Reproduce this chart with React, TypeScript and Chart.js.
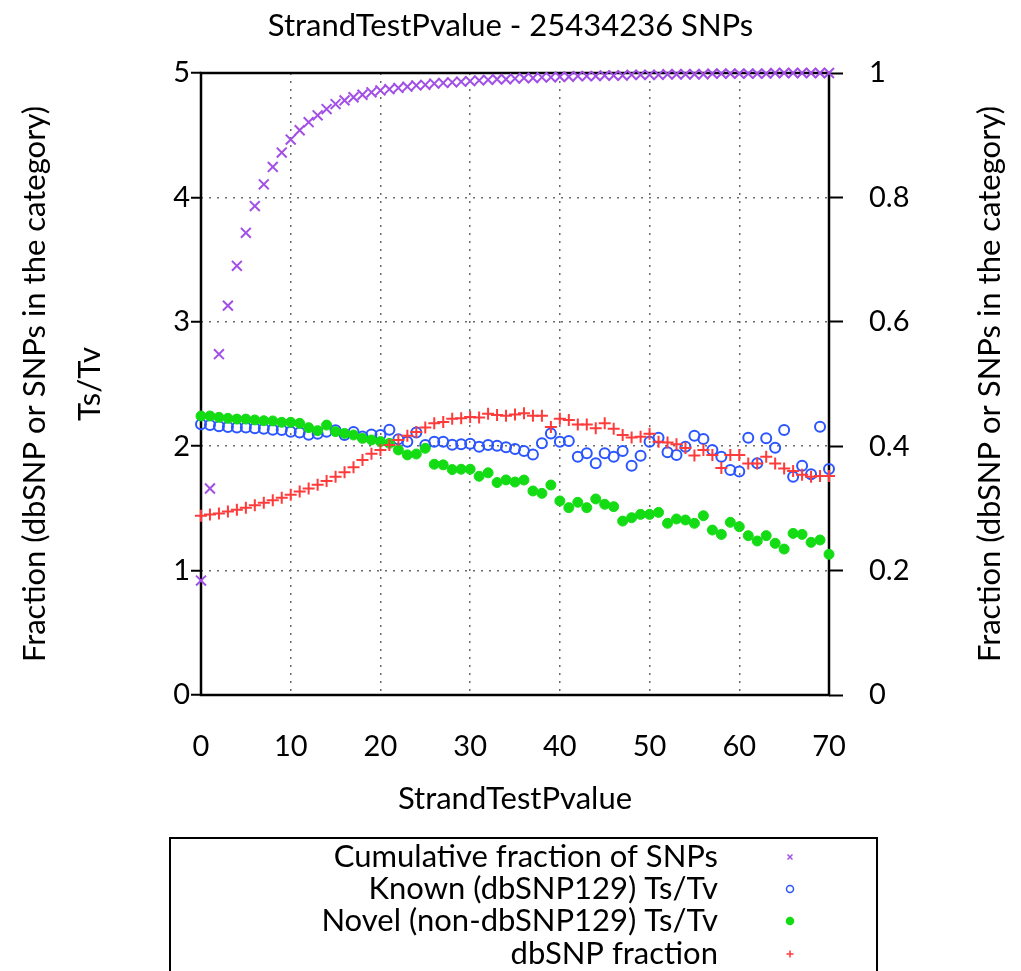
import React, { useEffect, useRef } from 'react';
import { Chart, registerables } from 'chart.js';
import { drawPoint } from 'chart.js/helpers';

Chart.register(...registerables);

const strandTestPvalue = [
  0, 1, 2, 3, 4, 5, 6, 7, 8, 9, 10, 11, 12, 13, 14, 15, 16, 17, 18, 19,
  20, 21, 22, 23, 24, 25, 26, 27, 28, 29, 30, 31, 32, 33, 34, 35, 36, 37, 38, 39,
  40, 41, 42, 43, 44, 45, 46, 47, 48, 49, 50, 51, 52, 53, 54, 55, 56, 57, 58, 59,
  60, 61, 62, 63, 64, 65, 66, 67, 68, 69, 70,
];

const cumulativeFraction = [
  0.184, 0.332, 0.548, 0.626, 0.69, 0.743, 0.786, 0.821, 0.849, 0.872,
  0.893, 0.908, 0.921, 0.932, 0.942, 0.95, 0.956, 0.961, 0.965, 0.969,
  0.972, 0.974, 0.976, 0.978, 0.98, 0.981, 0.983, 0.984, 0.985, 0.986,
  0.987, 0.988, 0.989, 0.99, 0.99, 0.991, 0.992, 0.992, 0.993, 0.993,
  0.994, 0.994, 0.995, 0.995, 0.995, 0.996, 0.996, 0.996, 0.997, 0.997,
  0.997, 0.997, 0.998, 0.998, 0.998, 0.998, 0.998, 0.999, 0.999, 0.999,
  0.999, 0.999, 0.999, 0.999, 1.0, 1.0, 1.0, 1.0, 1.0, 1.0, 1.0,
];

const knownTsTv = [
  2.176, 2.17, 2.16, 2.155, 2.15, 2.15, 2.145, 2.14, 2.132, 2.13,
  2.117, 2.111, 2.092, 2.1, 2.117, 2.128, 2.09, 2.115, 2.077, 2.095,
  2.09, 2.132, 2.055, 2.036, 2.111, 2.01, 2.036, 2.036, 2.012, 2.016,
  2.02, 1.995, 2.01, 2.004, 1.992, 1.978, 1.961, 1.934, 2.023, 2.103,
  2.036, 2.041, 1.916, 1.943, 1.862, 1.943, 1.916, 1.961, 1.843, 1.924,
  2.036, 2.068, 1.951, 1.929, 1.996, 2.084, 2.057, 1.969, 1.916, 1.809,
  1.796, 2.068, 1.862, 2.063, 1.988, 2.13, 1.755, 1.843, 1.774, 2.157,
  1.816,
];

const novelTsTv = [
  2.243, 2.243, 2.232, 2.224, 2.218, 2.218, 2.211, 2.205, 2.203, 2.192,
  2.192, 2.184, 2.149, 2.125, 2.17, 2.117, 2.103, 2.09, 2.063, 2.05,
  2.037, 2.023, 1.97, 1.93, 1.937, 1.983, 1.855, 1.85, 1.812, 1.815,
  1.815, 1.758, 1.786, 1.708, 1.729, 1.712, 1.728, 1.64, 1.621, 1.688,
  1.56, 1.506, 1.549, 1.506, 1.576, 1.533, 1.514, 1.398, 1.425, 1.452,
  1.452, 1.468, 1.38, 1.415, 1.407, 1.38, 1.441, 1.326, 1.291, 1.388,
  1.353, 1.281, 1.238, 1.281, 1.219, 1.173, 1.299, 1.291, 1.227, 1.246,
  1.131,
];

const dbsnpFraction = [
  0.288, 0.29, 0.292, 0.295, 0.298, 0.301, 0.305, 0.309, 0.313, 0.317,
  0.322, 0.327, 0.332, 0.338, 0.344, 0.351, 0.358, 0.366, 0.378, 0.388,
  0.394, 0.402, 0.41, 0.417, 0.423, 0.43, 0.437, 0.439, 0.444, 0.445,
  0.447, 0.446, 0.452, 0.45, 0.449, 0.451, 0.453, 0.449, 0.449, 0.431,
  0.444, 0.442, 0.435, 0.435, 0.429, 0.437, 0.428, 0.418, 0.414, 0.415,
  0.42, 0.407, 0.406, 0.403, 0.397, 0.385, 0.394, 0.386, 0.365, 0.386,
  0.386, 0.372, 0.372, 0.383, 0.372, 0.364, 0.36, 0.354, 0.351, 0.352,
  0.352,
];

const fractionTickLabels = ['0', '0.2', '0.4', '0.6', '0.8', '1'];
const tsTvTickLabels = ['0', '1', '2', '3', '4', '5'];
const xTickLabels = ['0', '10', '20', '30', '40', '50', '60', '70'];

const seriesLabels = [
  'Cumulative fraction of SNPs',
  'Known (dbSNP129) Ts/Tv',
  'Novel (non-dbSNP129) Ts/Tv',
  'dbSNP fraction',
];
const seriesColors = ['#a24fe6', '#2a55ff', '#14dc14', '#ff3a3a'];
const seriesStyles = ['crossRot', 'circle', 'circle', 'cross'];
const seriesFilled = [false, false, true, false];

const chartTitle = 'StrandTestPvalue - 25434236 SNPs';
const xAxisTitle = 'StrandTestPvalue';
const leftAxisTitle = ['Fraction (dbSNP or SNPs in the category)', 'Ts/Tv'];
const rightAxisTitle = 'Fraction (dbSNP or SNPs in the category)';

const FONT = 'Lato, "Open Sans", sans-serif';
const FS = 29;
const TFS = 31;

const toPoints = (ys: number[]) => strandTestPvalue.map((x, i) => ({ x, y: ys[i] }));

const decorPlugin = {
  id: 'decor',
  beforeDatasetsDraw(chart: any) {
    const { ctx, chartArea } = chart;
    ctx.save();
    ctx.strokeStyle = '#000';
    ctx.lineWidth = 2.5;
    ctx.strokeRect(chartArea.left, chartArea.top, chartArea.right - chartArea.left, chartArea.bottom - chartArea.top);
    ctx.restore();
  },
  afterDraw(chart: any) {
    const { ctx, chartArea } = chart;
    ctx.save();
    ctx.fillStyle = '#000';
    ctx.font = `${TFS}px ${FONT}`;
    // right axis title (reads bottom-to-top)
    ctx.translate(990, (chartArea.top + chartArea.bottom) / 2);
    ctx.rotate(-Math.PI / 2);
    ctx.textAlign = 'center';
    ctx.textBaseline = 'middle';
    ctx.fillText(rightAxisTitle, 0, 0);
    ctx.restore();

    // key box
    ctx.save();
    ctx.strokeStyle = '#000';
    ctx.lineWidth = 2;
    ctx.strokeRect(170, 838, 707, 200);
    ctx.font = `${TFS}px ${FONT}`;
    ctx.textAlign = 'right';
    ctx.textBaseline = 'middle';
    const rows = [857, 889, 921, 954];
    seriesLabels.forEach((lab, i) => {
      ctx.fillStyle = '#000';
      ctx.fillText(lab, 718, rows[i]);
      ctx.strokeStyle = seriesColors[i];
      ctx.fillStyle = seriesFilled[i] ? seriesColors[i] : 'rgba(0,0,0,0)';
      ctx.lineWidth = 1.5;
      drawPoint(ctx, { pointStyle: seriesStyles[i] as any, radius: 3.5, rotation: 0, borderWidth: 1.5 }, 790, rows[i]);
    });
    ctx.restore();
  },
};

export default function App() {
  const ref = useRef<HTMLCanvasElement | null>(null);
  useEffect(() => {
    if (!ref.current) return;
    const font = { family: FONT, size: FS };
    const tfont = { family: FONT, size: TFS };
    const chart = new Chart(ref.current, {
      type: 'scatter',
      data: {
        datasets: [
          {
            label: seriesLabels[0],
            data: toPoints(cumulativeFraction),
            yAxisID: 'y2',
            pointStyle: 'crossRot',
            pointRadius: 7,
            borderColor: seriesColors[0],
            backgroundColor: seriesColors[0],
            pointBorderWidth: 2,
            order: 4,
            clip: false,
          },
          {
            label: seriesLabels[1],
            data: toPoints(knownTsTv),
            yAxisID: 'y',
            pointStyle: 'circle',
            pointRadius: 5,
            borderColor: seriesColors[1],
            backgroundColor: 'rgba(0,0,0,0)',
            pointBorderWidth: 2,
            order: 3,
            clip: false,
          },
          {
            label: seriesLabels[2],
            data: toPoints(novelTsTv),
            yAxisID: 'y',
            pointStyle: 'circle',
            pointRadius: 5,
            borderColor: seriesColors[2],
            backgroundColor: seriesColors[2],
            pointBorderWidth: 1,
            order: 2,
            clip: false,
          },
          {
            label: seriesLabels[3],
            data: toPoints(dbsnpFraction),
            yAxisID: 'y2',
            pointStyle: 'cross',
            pointRadius: 6,
            borderColor: seriesColors[3],
            backgroundColor: seriesColors[3],
            pointBorderWidth: 2,
            order: 1,
            clip: false,
          },
        ],
      },
      options: {
        responsive: false,
        animation: false,
        events: [],
        layout: { padding: { left: 0, right: 0, top: 0, bottom: 133 } },
        plugins: {
          legend: { display: false },
          tooltip: { enabled: false },
          title: {
            display: true,
            text: chartTitle,
            color: '#000',
            font: { family: FONT, size: TFS, weight: 'normal', lineHeight: 1.2 },
            padding: { top: 7, bottom: 28.8 },
          },
        },
        scales: {
          x: {
            type: 'linear',
            min: 0,
            max: 70,
            afterFit: (s: any) => { s.height = 143; },
            ticks: {
              stepSize: 10,
              autoSkip: false,
              maxRotation: 0,
              color: '#000',
              font,
              padding: 34,
              callback: (_v: any, i: number) => xTickLabels[i],
            },
            grid: { color: '#6a6a6a', lineWidth: 1.5, drawTicks: false },
            border: { display: false, dash: [2, 6] },
            title: {
              display: true,
              text: xAxisTitle,
              color: '#000',
              font: tfont,
              padding: { top: 0, bottom: 20 },
            },
          },
          y: {
            type: 'linear',
            position: 'left',
            min: 0,
            max: 5,
            afterFit: (s: any) => { s.width = 201; },
            ticks: {
              stepSize: 1,
              color: '#000',
              font,
              padding: 1,
              callback: (_v: any, i: number) => tsTvTickLabels[i],
            },
            grid: { color: '#6a6a6a', lineWidth: 1.5, tickLength: 10, tickColor: '#000', tickWidth: 2, tickBorderDash: [] },
            border: { display: false, dash: [2, 6] },
            title: {
              display: true,
              text: leftAxisTitle,
              color: '#000',
              font: { family: FONT, size: TFS, lineHeight: '55px' },
              padding: { top: 7.5, bottom: 0 },
            },
          },
          y2: {
            type: 'linear',
            position: 'right',
            min: 0,
            max: 1,
            afterFit: (s: any) => { s.width = 192; },
            ticks: {
              stepSize: 0.2,
              color: '#000',
              font,
              padding: 26,
              callback: (_v: any, i: number) => fractionTickLabels[i],
            },
            grid: { drawOnChartArea: false, tickLength: 14, tickColor: '#000', tickWidth: 2 },
            border: { display: false },
          },
        },
      },
      plugins: [decorPlugin],
    } as any);
    return () => chart.destroy();
  }, []);
  return (
    <div style={{ position: 'fixed', left: 0, top: 0, width: 1021, height: 971, background: '#fff' }}>
      <canvas ref={ref} width={1021} height={971} />
    </div>
  );
}
